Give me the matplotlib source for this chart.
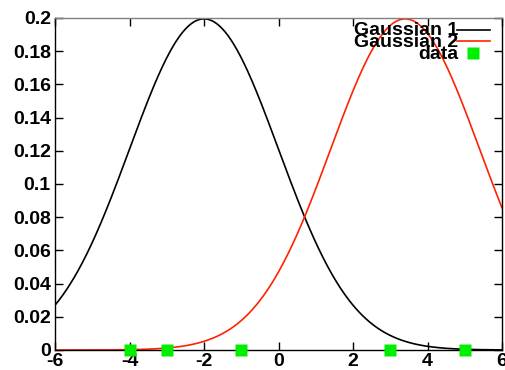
import numpy as np
import matplotlib
matplotlib.use("Agg")
import matplotlib.pyplot as plt
from matplotlib.lines import Line2D

# gaussian parameters and sample points
means = [-2.0, 3.4]
sigmas = [2.0, 2.0]
labels = ["Gaussian 1", "Gaussian 2"]
colors = ["black", "#ff2200"]
data_x = [-4, -3, -1, 3, 5]
data_y = [0, 0, 0, 0, 0]

xticks = [-6, -4, -2, 0, 2, 4, 6]
yticks = [0, 0.02, 0.04, 0.06, 0.08, 0.1, 0.12, 0.14, 0.16, 0.18, 0.2]
ytick_labels = ["0", "0.02", "0.04", "0.06", "0.08", "0.1", "0.12", "0.14", "0.16", "0.18", "0.2"]

plt.rcParams["font.family"] = ["Liberation Sans", "DejaVu Sans"]
plt.rcParams["font.weight"] = "bold"
plt.rcParams["axes.unicode_minus"] = False

fig = plt.figure(figsize=(5.05, 3.70), dpi=100)
ax = fig.add_axes([55 / 505, 20 / 370, 447 / 505, 332 / 370])

x = np.linspace(-6, 6, 600)
for m, s, c, lab in zip(means, sigmas, colors, labels):
    y = np.exp(-(x - m) ** 2 / (2 * s ** 2)) / (s * np.sqrt(2 * np.pi))
    ax.plot(x, y, color=c, lw=1.2, label=lab, clip_on=True)

ax.plot(data_x, data_y, "s", color="#00ee00", ms=8, mec="none", clip_on=False, zorder=5)

ax.set_xlim(-6, 6)
ax.set_ylim(0, 0.2)
ax.set_xticks(xticks)
ax.set_yticks(yticks)
ax.set_yticklabels(ytick_labels)
ax.tick_params(direction="in", length=6, width=1, top=True, right=True,
               labelsize=14, pad=3)
ax.tick_params(axis="x", pad=2)
for sp in ax.spines.values():
    sp.set_linewidth(1)
ax.spines["top"].set_color("#808080")

# key in the top right corner, gnuplot style
tr = ax.transAxes
kx_text = (458 - 55) / 447
rows = [(37, "Gaussian 1"), (49, "Gaussian 2"), (61, "data")]
for (py, txt) in rows:
    ax.text(kx_text, 1 - (py - 20) / 332, txt, transform=tr, ha="right", va="baseline",
            fontsize=14, fontweight="bold")
ax.add_line(Line2D([(457 - 55) / 447, (490 - 55) / 447], [1 - 12 / 332] * 2,
                   transform=tr, color="black", lw=1.2))
ax.add_line(Line2D([(457 - 55) / 447, (490 - 55) / 447], [1 - 23 / 332] * 2,
                   transform=tr, color="#ff2200", lw=1.2))
ax.plot([(473 - 55) / 447], [1 - 35 / 332], "s", color="#00ee00", ms=8,
        mec="none", transform=tr)

fig.savefig("out.png", dpi=100)
